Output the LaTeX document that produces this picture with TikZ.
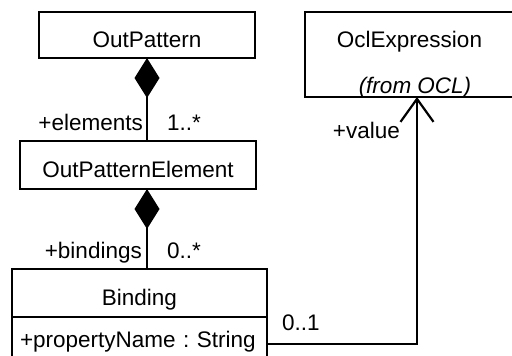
\documentclass[tikz,border=0pt]{standalone}
\usepackage{fontspec}
\setmainfont{Liberation Sans}
\usetikzlibrary{arrows.meta,positioning}
\frenchspacing
\newcommand{\umlsize}{\fontsize{22.5pt}{27pt}\selectfont}
\tikzset{
  classbox/.style={
    draw,
    line width=2.6pt,
    inner sep=0pt,
    outer sep=0pt,
    font=\umlsize,
    text height=24pt,
    text depth=0pt
  },
  rolelabel/.style={
    font=\umlsize,
    inner sep=0pt
  },
  composition/.style={
    {Diamond[length=40pt,width=25pt]}-,
    line width=2.2pt
  },
  navassoc/.style={
    -{Straight Barb[length=23pt,width=33pt]},
    line width=2.2pt
  }
}

\begin{document}
\begin{tikzpicture}[x=1pt, y=-1pt]
\useasboundingbox (0,0) rectangle (512,356);
\clip (0,0) rectangle (512,356);
\fill[white] (0,0) rectangle (512,356);
% classes
\node[classbox, minimum width=216pt, minimum height=46pt] (outpat) at (147,35) {OutPattern};
\node[classbox, minimum width=236pt, minimum height=48pt] (elem) at (138,165) {OutPatternElement};
\node[classbox, minimum width=255pt, minimum height=48pt] (bindname) at (139.5,293) {Binding};
\node[classbox, minimum width=255pt, minimum height=54pt, anchor=north,
      inner xsep=8pt, text width=239pt, align=left, text height=16pt, text depth=9pt]
      (bindattr) at (bindname.south) {\mbox{\frenchspacing +propertyName : String}};
\node[classbox, minimum width=208pt, minimum height=85pt] (ocl) at (409,54.5) {};
\node[rolelabel, anchor=base] (oclname) at (409.5,47.5) {OclExpression};
\node[rolelabel, anchor=base, font=\umlsize\itshape] (oclpkg) at (415,93.5) {(from OCL)};
% associations
\draw[composition] (outpat.south) -- (outpat.south |- elem.north);
\draw[composition] (outpat.south |- elem.south) -- (outpat.south |- bindname.north);
\draw[navassoc] (bindattr.east) -| ([xshift=8pt]ocl.south);
% role names and multiplicities
\node[rolelabel, anchor=base east] (elemrole) at (143,130) {+elements};
\node[rolelabel, anchor=base west] (elemmult) at (167,130) {1..*};
\node[rolelabel, anchor=base east] (bindrole) at (142,258) {+bindings};
\node[rolelabel, anchor=base west] (bindmult) at (167,258) {0..*};
\node[rolelabel, anchor=base east] (valrole) at (400,138) {+value};
\node[rolelabel, anchor=base west] (valmult) at (282,330) {0..1};
\end{tikzpicture}
\end{document}
